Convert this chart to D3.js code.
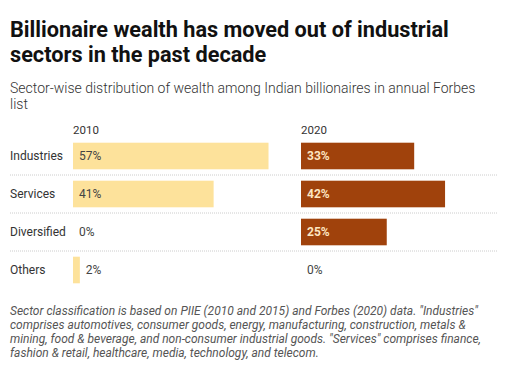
<!DOCTYPE html>
<html><head><meta charset="utf-8">
<script src="https://cdn.jsdelivr.net/npm/d3@7"></script>
<style>
body{margin:0;background:#fff;font-family:Roboto,"Noto Sans",sans-serif;}
svg{display:block;}
</style></head><body>
<svg id="c" width="529" height="378"></svg>
<script>
const categories = ["Industries","Services","Diversified","Others"];
const years = ["2010","2020"];
const values2010 = [57,41,0,2];
const values2020 = [33,42,25,0];
const titleLines = ["Billionaire wealth has moved out of industrial","sectors in the past decade"];
const subtitleLines = ["Sector-wise distribution of wealth among Indian billionaires in annual Forbes","list"];
const noteLines = [
 "Sector classification is based on PIIE (2010 and 2015) and Forbes (2020) data. \"Industries\"",
 "comprises automotives, consumer goods, energy, manufacturing, construction, metals &",
 "mining, food & beverage, and non-consumer industrial goods. \"Services\" comprises finance,",
 "fashion & retail, healthcare, media, technology, and telecom."
];

const svg = d3.select("#c");
svg.append("text").attr("x",10).attr("y",37).attr("font-size",21.7).attr("font-weight",700).attr("fill","#111")
  .selectAll("tspan").data(titleLines).join("tspan").attr("x",10).attr("dy",(d,i)=>i?25:0).text(d=>d);
svg.append("text").attr("x",10).attr("y",93).attr("font-size",14).attr("font-weight",300).attr("fill","#333")
  .selectAll("tspan").data(subtitleLines).join("tspan").attr("x",10).attr("dy",(d,i)=>i?16:0).text(d=>d);

const y = d3.scaleBand().domain(categories).range([137,289]).paddingInner(0.3).paddingOuter(0.15);
const x = d3.scaleLinear().domain([0,100]).range([0,343]);
const colX = d3.scaleOrdinal().domain(years).range([73,301]);
const colors = {"2010":"#fde29b","2020":"#a0420c"};
const series = {"2010":values2010,"2020":values2020};

const step = y.step();
svg.selectAll("line.sep").data(categories.slice(0,-1)).join("line")
  .attr("x1",10).attr("x2",497)
  .attr("y1",d=>y(d)+y.bandwidth()+ (step-y.bandwidth())/2)
  .attr("y2",d=>y(d)+y.bandwidth()+ (step-y.bandwidth())/2)
  .attr("stroke","#ccc").attr("stroke-dasharray","1,1");

svg.selectAll("text.row").data(categories).join("text")
  .attr("x",10).attr("y",d=>y(d)+y.bandwidth()/2).attr("dy","0.35em")
  .attr("font-size",12).attr("fill","#333").text(d=>d);

years.forEach(yr=>{
  const x0 = colX(yr);
  svg.append("text").attr("x",x0).attr("y",134).attr("font-size",11.5).attr("fill","#333").text(yr);
  const data = categories.map((c,i)=>({c,v:series[yr][i]}));
  svg.selectAll("rect.b"+yr).data(data).join("rect")
    .attr("x",x0).attr("y",d=>y(d.c)).attr("height",y.bandwidth())
    .attr("width",d=>x(d.v)).attr("fill",colors[yr]);
  svg.selectAll("text.v"+yr).data(data).join("text")
    .attr("x",d=> (d.v>=10 ? x0+6 : x0+x(d.v)+6))
    .attr("y",d=>y(d.c)+y.bandwidth()/2).attr("dy","0.35em")
    .attr("font-size",12)
    .attr("font-weight",d=> (yr==="2020"&&d.v>=10)?700:400)
    .attr("fill",d=> (yr==="2020"&&d.v>=10)?"#fde6c2":"#444")
    .text(d=>d.v+"%");
});

svg.append("text").attr("x",10).attr("y",315).attr("font-size",12).attr("font-style","italic").attr("fill","#555")
  .selectAll("tspan").data(noteLines).join("tspan").attr("x",10).attr("dy",(d,i)=>i?14:0).text(d=>d);
</script>
</body></html>
